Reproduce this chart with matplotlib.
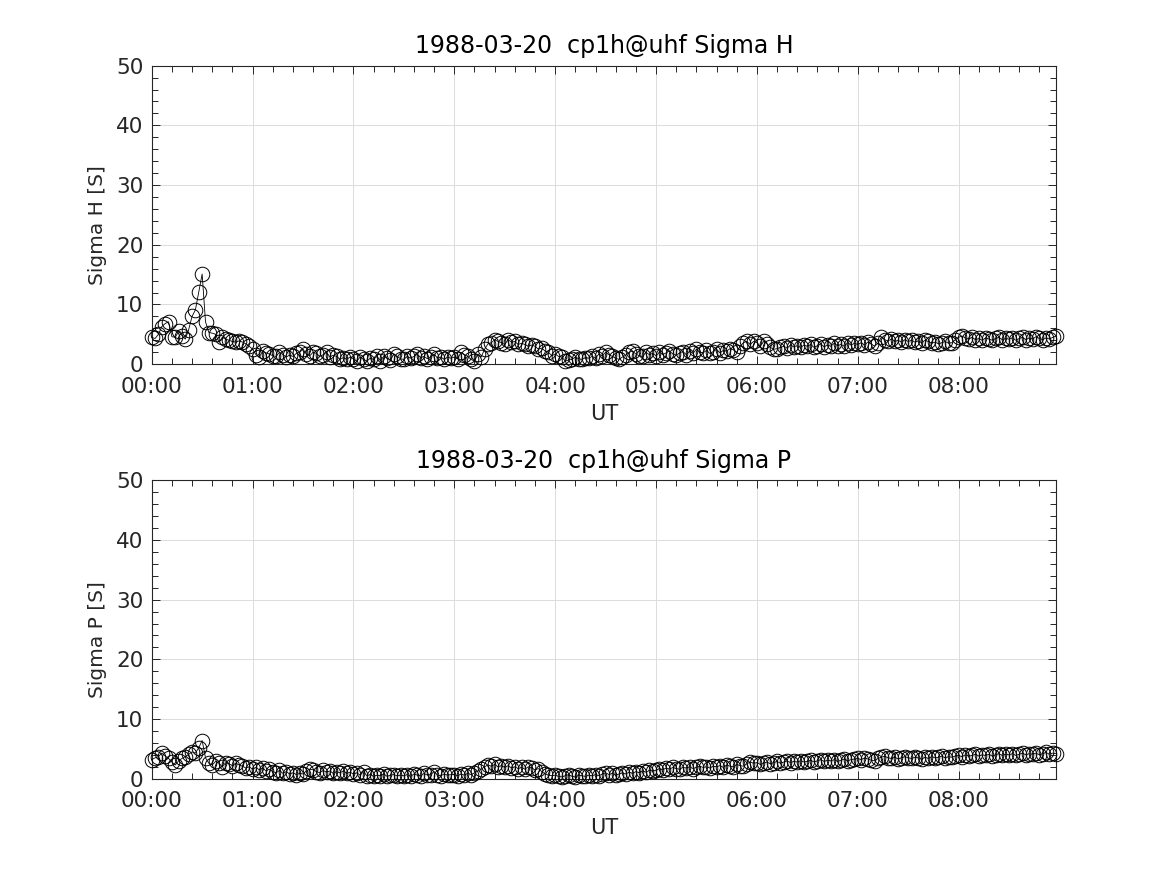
import numpy as np
import matplotlib
matplotlib.use("Agg")
import matplotlib.pyplot as plt
from matplotlib.ticker import MultipleLocator, FuncFormatter

# ---- data (2-minute samples starting 00:00 UT) ----
sample_minutes = 2
sigma_h = [
    4.5, 4.3, 5.0, 6.3, 6.8, 7.1, 4.6, 4.5, 5.5, 4.8, 4.2, 5.8, 8.0, 9.1, 12.1,
    15.1, 7.1, 5.3, 5.2, 5.0, 3.7, 4.5, 4.2, 4.0, 3.8, 3.7, 3.9, 3.7, 3.4, 3.0,
    2.5, 1.6, 1.2, 2.2, 1.9, 1.7, 1.4, 1.3, 2.0, 1.6, 1.2, 1.5, 1.3, 1.8, 2.0,
    2.5, 1.7, 1.4, 2.0, 1.8, 1.3, 1.6, 2.0, 1.2, 1.5, 1.3, 0.8, 1.1, 0.8, 1.2,
    0.9, 0.5, 1.2, 0.8, 0.5, 1.0, 0.8, 1.3, 0.6, 1.3, 1.0, 0.7, 1.7, 1.3, 0.9,
    0.8, 1.3, 1.0, 1.3, 1.7, 1.1, 1.3, 0.9, 1.2, 1.7, 1.0, 1.2, 0.8, 1.2, 1.0,
    1.2, 0.9, 2.0, 1.6, 1.3, 0.8, 0.5, 1.7, 1.2, 2.5, 3.4, 3.6, 4.1, 3.8, 3.6,
    3.3, 4.1, 3.7, 3.8, 3.3, 3.5, 3.3, 3.0, 3.2, 3.0, 2.5, 2.7, 2.2, 2.0, 1.4,
    1.7, 1.3, 1.2, 0.5, 0.7, 0.8, 1.2, 0.9, 0.8, 1.1, 1.0, 1.3, 1.0, 1.7, 1.4,
    2.0, 1.6, 1.3, 1.0, 0.8, 1.2, 1.5, 2.0, 2.2, 1.7, 1.4, 1.3, 2.0, 1.6, 1.8,
    1.4, 2.0, 1.6, 1.9, 2.2, 1.7, 1.5, 1.9, 2.1, 1.6, 2.2, 1.8, 2.5, 2.0, 1.9,
    2.3, 1.8, 2.1, 2.5, 1.9, 2.3, 2.2, 2.6, 2.4, 2.0, 3.0, 3.6, 3.8, 3.3, 3.8,
    3.6, 3.0, 3.8, 3.4, 2.8, 2.5, 2.6, 2.8, 3.0, 2.7, 3.2, 2.9, 3.1, 2.8, 3.2,
    3.0, 3.3, 2.8, 3.1, 3.4, 2.9, 3.2, 3.0, 3.5, 3.1, 3.3, 3.0, 3.6, 3.2, 3.5,
    3.3, 3.6, 3.2, 3.7, 3.4, 3.0, 3.5, 4.5, 4.1, 3.9, 4.2, 3.8, 4.0, 3.7, 4.1,
    3.8, 4.0, 3.7, 3.9, 3.6, 4.0, 3.8, 3.5, 3.7, 3.4, 3.6, 3.8, 3.5, 3.6, 4.1,
    4.5, 4.7, 4.4, 4.2, 4.5, 4.1, 4.3, 4.0, 4.4, 4.2, 4.0, 4.3, 4.5, 4.1, 4.3,
    4.2, 4.4, 4.0, 4.3, 4.5, 4.1, 4.4, 4.2, 4.6, 4.3, 4.1, 4.4, 4.2, 4.5, 4.7,
]
sigma_p = [
    3.2, 3.5, 3.7, 4.3, 3.8, 3.4, 2.8, 2.3, 3.0, 3.4, 3.7, 4.1, 4.5, 4.3, 5.2,
    6.4, 3.5, 2.6, 2.3, 2.9, 2.6, 2.0, 2.7, 2.5, 2.2, 2.6, 2.3, 2.1, 1.8, 2.0,
    1.6, 1.9, 1.5, 1.8, 1.3, 1.6, 1.2, 1.0, 1.4, 0.9, 1.2, 0.8, 1.0, 0.7, 0.9,
    0.8, 1.3, 1.6, 1.5, 1.2, 1.0, 1.4, 1.1, 1.3, 0.9, 1.2, 1.0, 1.3, 0.9, 1.1,
    0.8, 1.0, 0.6, 1.2, 0.5, 0.7, 0.4, 0.6, 0.5, 0.8, 0.4, 0.6, 0.7, 0.5, 0.6,
    0.5, 0.7, 0.4, 0.8, 0.6, 0.5, 0.9, 0.6, 0.7, 1.2, 0.6, 0.5, 0.8, 0.6, 0.7,
    0.7, 0.5, 0.8, 0.6, 0.9, 0.7, 1.0, 1.3, 1.6, 2.0, 2.3, 2.1, 2.4, 2.0, 2.2,
    1.9, 2.2, 1.8, 2.0, 1.7, 1.9, 1.6, 2.0, 1.8, 1.5, 1.7, 1.2, 0.8, 0.6, 0.5,
    0.6, 0.4, 0.3, 0.5, 0.7, 0.4, 0.3, 0.6, 0.5, 0.4, 0.6, 0.5, 0.7, 0.5, 0.8,
    1.0, 0.7, 0.9, 0.6, 0.8, 1.0, 0.8, 1.1, 0.9, 1.2, 1.0, 1.3, 1.1, 1.4, 1.3,
    1.4, 1.7, 1.5, 1.8, 1.6, 1.9, 1.7, 1.6, 1.9, 1.8, 2.0, 1.7, 1.9, 2.1, 1.9,
    2.0, 1.8, 2.1, 2.0, 2.2, 1.9, 2.3, 2.1, 2.0, 2.4, 2.2, 2.1, 2.5, 2.8, 2.6,
    2.7, 2.4, 2.6, 2.8, 2.5, 2.7, 2.9, 2.6, 2.8, 3.0, 2.7, 2.9, 2.8, 3.0, 2.8,
    2.9, 3.1, 2.8, 3.0, 3.2, 2.9, 3.1, 3.0, 3.2, 2.9, 3.1, 3.3, 3.0, 3.2, 3.3,
    3.4, 3.2, 3.5, 3.3, 3.1, 3.0, 3.4, 3.6, 3.8, 3.5, 3.4, 3.6, 3.3, 3.5, 3.7,
    3.5, 3.4, 3.6, 3.5, 3.3, 3.6, 3.4, 3.7, 3.5, 3.6, 3.8, 3.5, 3.7, 3.6, 3.8,
    3.9, 3.7, 4.0, 3.8, 3.9, 4.1, 3.8, 4.0, 3.9, 4.1, 3.8, 4.0, 4.2, 3.9, 4.1,
    4.0, 4.2, 3.9, 4.1, 4.3, 4.0, 4.2, 4.1, 4.3, 4.0, 4.2, 4.4, 4.1, 4.3, 4.2,
]
titles = ["1988-03-20  cp1h@uhf Sigma H", "1988-03-20  cp1h@uhf Sigma P"]
ylabels = ["Sigma H [S]", "Sigma P [S]"]
xlabel = "UT"
hour_ticks = [0, 1, 2, 3, 4, 5, 6, 7, 8]
y_ticks = [0, 10, 20, 30, 40, 50]

t_hours = np.arange(len(sigma_h)) * sample_minutes / 60.0

plt.rcParams['font.family'] = ['DejaVu Sans']
fig = plt.figure(figsize=(11.67, 8.75), dpi=100)
txt = '#262626'

positions = [[0.13, 0.5838, 0.775, 0.3412], [0.13, 0.11, 0.775, 0.3412]]

def fmt(x, pos):
    total = int(round(x * 60))
    return f"{total // 60:02d}:{total % 60:02d}"

for pos, series, title, ylab in zip(positions, [sigma_h, sigma_p], titles, ylabels):
    ax = fig.add_axes(pos)
    ax.plot(t_hours, series, '-o', color='black', lw=0.6, ms=10.5,
            mfc='none', mec='black', mew=0.7, clip_on=False, zorder=3)
    ax.set_xlim(0, t_hours[-1])
    ax.set_ylim(0, 50)
    ax.set_xticks(hour_ticks)
    ax.xaxis.set_major_formatter(FuncFormatter(fmt))
    ax.set_yticks(y_ticks)
    ax.xaxis.set_minor_locator(MultipleLocator(0.2))
    ax.yaxis.set_minor_locator(MultipleLocator(2))
    ax.grid(True, which='major', color='#dcdcdc', lw=0.7, zorder=0)
    ax.set_axisbelow(True)
    ax.tick_params(which='both', direction='in', top=True, right=True,
                   colors=txt, labelsize=15.5, width=0.7)
    ax.tick_params(which='major', length=6)
    ax.tick_params(which='minor', length=4)
    ax.tick_params(axis='x', which='major', pad=9)
    ax.tick_params(axis='y', which='major', pad=6)
    for s in ax.spines.values():
        s.set_color(txt)
        s.set_linewidth(0.8)
    ax.set_title(title, fontsize=17, color='black', pad=9)
    ax.set_xlabel(xlabel, fontsize=15, color=txt, labelpad=5)
    ax.set_ylabel(ylab, fontsize=14.5, color=txt)
    ax.yaxis.set_label_coords(-0.049, 0.465)

fig.savefig("out.png", dpi=100, facecolor='white')
